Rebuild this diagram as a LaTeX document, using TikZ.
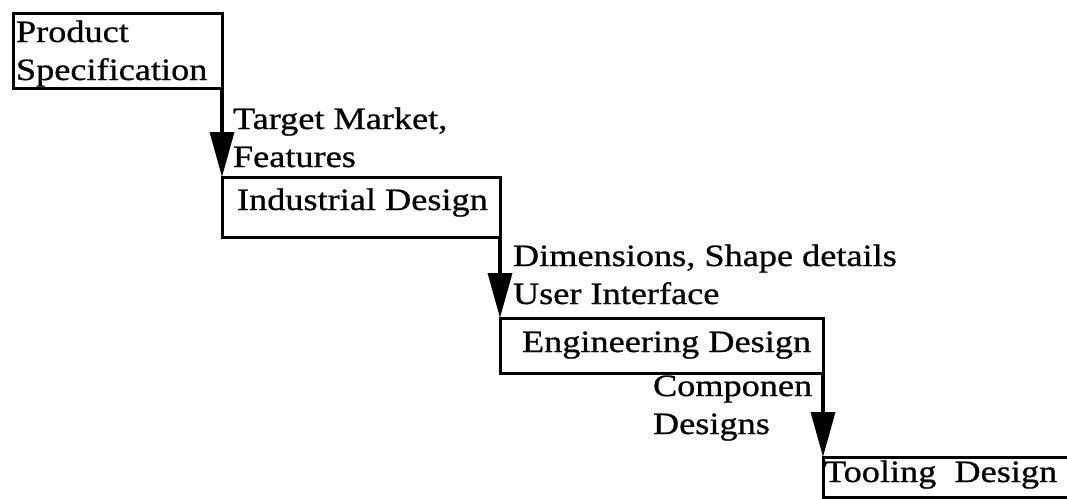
\documentclass[tikz,border=0pt]{standalone}
\usepackage{fontspec}
\setmainfont{Liberation Serif}[FakeStretch=1.17,FakeBold=0.8]
\usetikzlibrary{arrows.meta}
\begin{document}
\begin{tikzpicture}[x=1pt,y=-1pt,
  stage/.style={draw=black, line width=3pt, inner sep=0pt, outer sep=0pt, anchor=north west},
  lbl/.style={anchor=base west, inner sep=0pt, outer sep=0pt, font=\fontsize{31}{38}\selectfont},
  flow/.style={line width=3.5pt, -{Triangle[width=24pt,length=45pt]}}]
\clip (0,0) rectangle (1067,498);
\fill[white] (0,0) rectangle (1067,498);
% stages
\node[stage, minimum width=209pt, minimum height=75pt] (b1) at (13,13) {};
\node[stage, minimum width=278pt, minimum height=60pt] (b2) at (222,177) {};
\node[stage, minimum width=323pt, minimum height=55pt] (b3) at (500,318) {};
\node[stage, minimum width=262pt, minimum height=40pt] (b4) at (823,457) {};
% texts in stages
\node[lbl] (t1a) at (16,42) {Product};
\node[lbl] (t1b) at (16,80) {Specification};
\node[lbl] (t2) at (237,210) {Industrial Design};
\node[lbl] (t3) at (522,352) {Engineering Design};
\node[lbl] (t4) at (824,482) {Tooling\ \ Design};
% flow labels
\node[lbl] (f1a) at (233,129) {Target Market,};
\node[lbl] (f1b) at (233,167) {Features};
\node[lbl] (f2a) at (513,266) {Dimensions, Shape details};
\node[lbl] (f2b) at (513,304) {User Interface};
\node[lbl] (f3a) at (653,396) {Componen};
\node[lbl] (f3b) at (653,434) {Designs};
% connectors
\draw[flow] (b1.south east) -- (b2.north west);
\draw[flow] (b2.south east) -- (b3.north west);
\draw[flow] (b3.south east) -- (b4.north west);
\end{tikzpicture}
\end{document}
